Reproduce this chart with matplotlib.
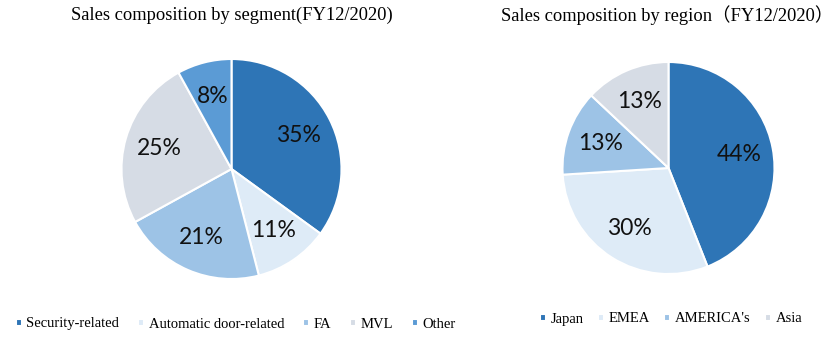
import matplotlib.pyplot as plt

W, H = 839, 337

segmentos = ["Security-related", "Automatic door-related", "FA", "MVL", "Other"]
valores_segmento = [35, 11, 21, 25, 8]
cores_segmento = ["#2E75B6", "#DEEBF7", "#9DC3E6", "#D6DCE5", "#5B9BD5"]

regioes = ["Japan", "EMEA", "AMERICA's", "Asia"]
valores_regiao = [44, 30, 13, 13]
cores_regiao = ["#2E75B6", "#DEEBF7", "#9DC3E6", "#D6DCE5"]

fonte_titulo = ["Liberation Serif", "Noto Sans CJK JP"]


def eixo_pizza(fig, cx, cy, r):
    return fig.add_axes([(cx - r) / W, (H - cy - r) / H, 2 * r / W, 2 * r / H])


fig = plt.figure(figsize=(W / 100, H / 100), dpi=100)

estilo_pct = {"fontsize": 16.5, "family": "Lato", "color": "#111111"}

ax1 = eixo_pizza(fig, 231.5, 169, 110)
fatias1, _, _ = ax1.pie(
    valores_segmento,
    colors=cores_segmento,
    startangle=90,
    counterclock=False,
    autopct="%d%%",
    pctdistance=0.68,
    wedgeprops={"edgecolor": "white", "linewidth": 1.5},
    textprops=estilo_pct,
)
ax1.set_xlim(-1, 1)
ax1.set_ylim(-1, 1)

ax2 = eixo_pizza(fig, 668.5, 168, 106)
fatias2, _, _ = ax2.pie(
    valores_regiao,
    colors=cores_regiao,
    startangle=90,
    counterclock=False,
    autopct="%d%%",
    pctdistance=0.68,
    wedgeprops={"edgecolor": "white", "linewidth": 1.5},
    textprops=estilo_pct,
)
ax2.set_xlim(-1, 1)
ax2.set_ylim(-1, 1)

fig.text(232 / W, 1 - 15 / H, "Sales composition by segment(FY12/2020)",
         ha="center", va="center", fontsize=13.3, family=fonte_titulo)
fig.text(667 / W, 1 - 15 / H, "Sales composition by region（FY12/2020）",
         ha="center", va="center", fontsize=13.3, family=fonte_titulo)

estilo_legenda = {
    "frameon": False,
    "handlelength": 0.42,
    "handleheight": 0.42,
    "handletextpad": 0.3,
    "borderaxespad": 0,
    "prop": {"family": "Liberation Serif", "size": 10.5},
}

fig.legend(fatias1, segmentos, loc="center", ncol=5, columnspacing=1.3,
           bbox_to_anchor=(236 / W, 1 - 324 / H), **estilo_legenda)
fig.legend(fatias2, regioes, loc="center", ncol=4, columnspacing=1.0,
           bbox_to_anchor=(671 / W, 1 - 319 / H), **estilo_legenda)

fig.savefig("out.png", dpi=100)
